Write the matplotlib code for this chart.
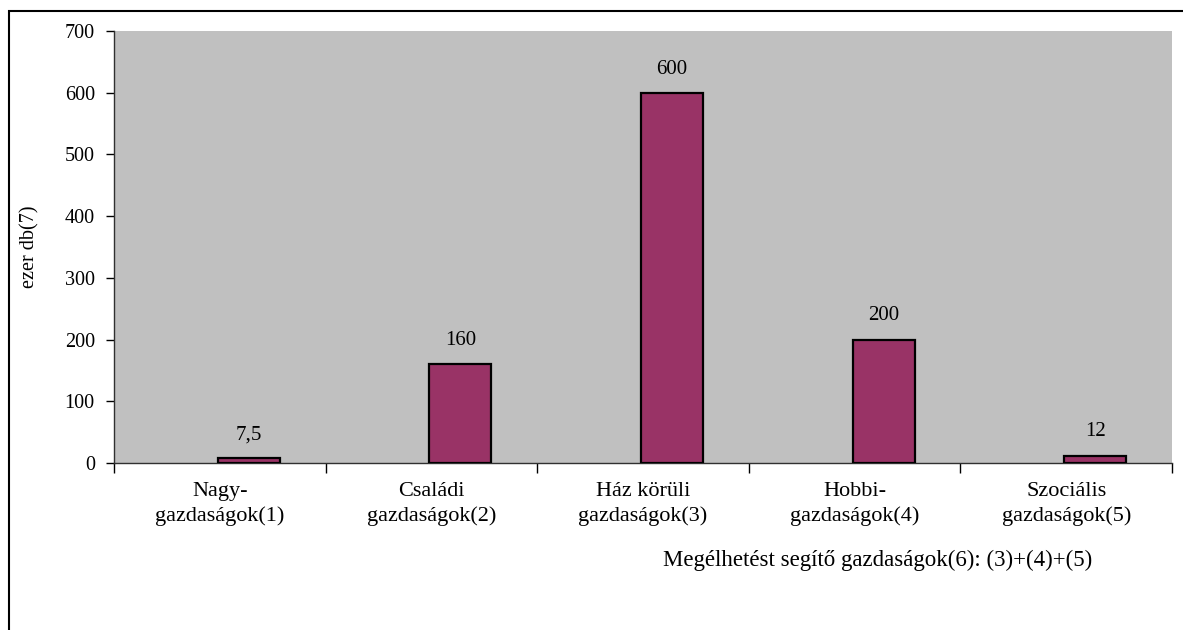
import matplotlib.pyplot as plt
import matplotlib as mpl
import numpy as np
from matplotlib.patches import Rectangle

mpl.rcParams['font.family'] = ['Liberation Serif', 'DejaVu Serif']

# adatok
kategoriak = ['Nagy-\ngazdaságok(1)', 'Családi\ngazdaságok(2)', 'Ház körüli\ngazdaságok(3)',
              'Hobbi-\ngazdaságok(4)', 'Szociális\ngazdaságok(5)']
ertekek = [7.5, 160, 600, 200, 12]
cimkek = ['7,5', '160', '600', '200', '12']
y_ticks = [0, 100, 200, 300, 400, 500, 600, 700]

W, H = 1183, 630
fig = plt.figure(figsize=(W / 100, H / 100), dpi=100)
ax = fig.add_axes([114 / W, 1 - 463 / H, 1058 / W, 432 / H])
ax.set_facecolor('#C0C0C0')

x = np.arange(len(ertekek))
ax.bar(x + 0.137, ertekek, width=0.293, color='#993366', edgecolor='black',
       linewidth=1.6, zorder=3)

# ertek cimkek
for xi, v, c in zip(x, ertekek, cimkek):
    ax.annotate(c, (xi + 0.137, v), xytext=(0, 17), textcoords='offset points',
                ha='center', va='center', fontsize=15)

ax.set_xlim(-0.5, 4.5)
ax.set_ylim(0, 700)
ax.set_yticks(y_ticks)
ax.tick_params(axis='y', direction='out', length=5.8, width=1, pad=8, labelsize=14.5)

ax.set_xticks(x)
ax.set_xticklabels(kategoriak, fontsize=16, linespacing=1.35)
ax.set_xticks(np.arange(-0.5, 5, 1), minor=True)
ax.tick_params(axis='x', which='major', length=0, pad=14)
ax.tick_params(axis='x', which='minor', direction='out', length=7, width=1)

for s in ['top', 'right']:
    ax.spines[s].set_visible(False)
for s in ['left', 'bottom']:
    ax.spines[s].set_color('#303030')
    ax.spines[s].set_linewidth(1)

fig.text(30 / W, 1 - 247 / H, 'ezer db(7)', rotation=90, ha='center', va='center',
         fontsize=14.5)
fig.text(878 / W, 1 - 566 / H, 'Megélhetést segítő gazdaságok(6): (3)+(4)+(5)',
         ha='center', va='baseline', fontsize=16.5)

# keret
fig.patches.append(Rectangle((9 / W, -0.1), 1.2, 1.1 - 11.5 / H, transform=fig.transFigure,
                             fill=False, edgecolor='black', linewidth=1.5))

fig.savefig('out.png', dpi=100)
